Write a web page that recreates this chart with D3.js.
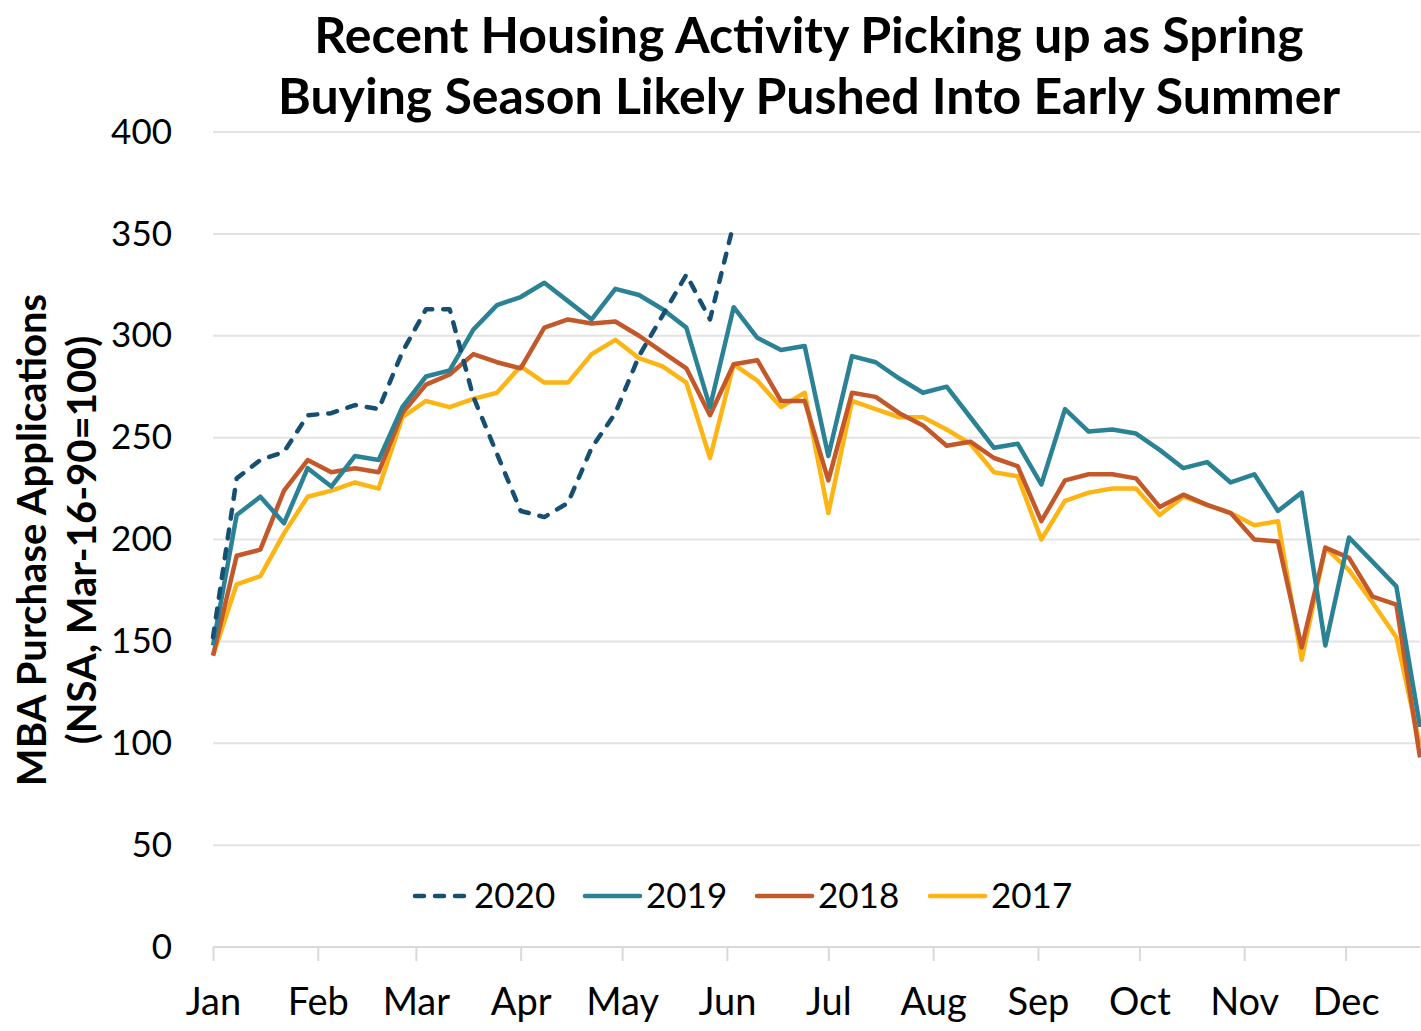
<!DOCTYPE html>
<html>
<head>
<meta charset="utf-8">
<script src="https://cdn.jsdelivr.net/npm/d3@7"></script>
<style>
  body { margin: 0; background: #fff; }
  text { font-family: "Source Sans Pro", Lato, "Noto Sans", sans-serif; }
</style>
</head>
<body>
<svg id="chart"></svg>
<script>
// weekly readings, 52 per year (week 1 = Jan 1)
const v2020 = [152, 230, 239, 243, 261, 262, 266, 264, 292, 313, 313, 270, 242, 214, 211, 218, 245, 262, 290, 310, 330, 308, 355];
const v2019 = [148, 212, 221, 208, 235, 226, 241, 239, 265, 280, 283, 303, 315, 319, 326, 317, 308, 323, 320, 313, 304, 265, 314, 299, 293, 295, 241, 290, 287, 279, 272, 275, 260, 245, 247, 227, 264, 253, 254, 252, 244, 235, 238, 228, 232, 214, 223, 148, 201, 189, 177, 108];
const v2018 = [143, 192, 195, 224, 239, 233, 235, 233, 262, 276, 281, 291, 287, 284, 304, 308, 306, 307, 300, 292, 284, 261, 286, 288, 268, 268, 229, 272, 270, 262, 256, 246, 248, 240, 236, 209, 229, 232, 232, 230, 216, 222, 217, 213, 200, 199, 147, 196, 191, 172, 168, 93];
const v2017 = [143, 178, 182, 203, 221, 224, 228, 225, 260, 268, 265, 269, 272, 285, 277, 277, 291, 298, 289, 285, 277, 240, 286, 278, 265, 272, 213, 268, 264, 260, 260, 254, 247, 233, 231, 200, 219, 223, 225, 225, 212, 221, 217, 213, 207, 209, 141, 196, 185, 169, 152, 99];
const seriesNames = ["2020", "2019", "2018", "2017"];
const seriesColors = ["#174f73", "#2a8294", "#c3582a", "#fdb515"];
const monthLabels = ["Jan", "Feb", "Mar", "Apr", "May", "Jun", "Jul", "Aug", "Sep", "Oct", "Nov", "Dec"];
const yTicks = [0, 50, 100, 150, 200, 250, 300, 350, 400];

const width = 1421;
const height = 1031;
const margin = { top: 132, right: 1, bottom: 84, left: 213 };

const start = new Date(2020, 0, 1);
const weekDate = (i) => d3.timeDay.offset(start, 7 * i);

const svg = d3.select("#chart").attr("width", width).attr("height", height);

const x = d3.scaleTime()
  .domain([start, weekDate(51)])
  .range([margin.left, width - margin.right]);

const y = d3.scaleLinear()
  .domain([0, 400])
  .range([height - margin.bottom, margin.top]);

// gridlines
svg.append("g")
  .selectAll("line")
  .data(yTicks.filter((d) => d > 0))
  .join("line")
  .attr("x1", margin.left)
  .attr("x2", width - margin.right)
  .attr("y1", (d) => y(d))
  .attr("y2", (d) => y(d))
  .attr("stroke", "#e3e3e3")
  .attr("stroke-width", 2);

// y axis labels
const yAxis = d3.axisLeft(y).tickValues(yTicks).tickSize(0).tickPadding(41);
svg.append("g")
  .attr("transform", `translate(${margin.left}, 0)`)
  .call(yAxis)
  .call((g) => g.select(".domain").remove())
  .selectAll("text")
  .style("font-size", "35px")
  .attr("fill", "#000");

// x axis
const months = monthLabels.map((m, i) => new Date(2020, i, 1));
const xAxis = d3.axisBottom(x)
  .tickValues(months)
  .tickFormat((d) => monthLabels[d.getMonth()])
  .tickSize(14)
  .tickPadding(27);
const gx = svg.append("g")
  .attr("transform", `translate(0, ${y(0)})`)
  .call(xAxis);
gx.select(".domain").attr("stroke", "#d9d9d9").attr("stroke-width", 2)
  .attr("d", `M${margin.left},0H${width - margin.right}`);
gx.selectAll(".tick line").attr("stroke", "#d9d9d9").attr("stroke-width", 2);
gx.selectAll("text").style("font-size", "38px").attr("fill", "#000");

// lines
const line = d3.line()
  .x((d, i) => x(weekDate(i)))
  .y((d) => y(d));

const allSeries = [v2020, v2019, v2018, v2017];
// draw older years first so 2020 sits on top
[3, 2, 1, 0].forEach((k) => {
  svg.append("path")
    .datum(allSeries[k])
    .attr("fill", "none")
    .attr("stroke", seriesColors[k])
    .attr("stroke-width", 4.5)
    .attr("stroke-linejoin", "round")
    .attr("stroke-linecap", k === 0 ? "round" : "butt")
    .attr("stroke-dasharray", k === 0 ? "9,11" : null)
    .attr("d", line);
});

// legend
const legendX = [413, 585, 757, 930];
const legend = svg.append("g").attr("transform", `translate(0, ${y(25)})`);
seriesNames.forEach((name, k) => {
  legend.append("line")
    .attr("x1", k === 0 ? legendX[k] + 2 : legendX[k])
    .attr("x2", legendX[k] + 55)
    .attr("y1", 0)
    .attr("y2", 0)
    .attr("stroke", seriesColors[k])
    .attr("stroke-width", 4.5)
    .attr("stroke-linecap", "round")
    .attr("stroke-dasharray", k === 0 ? "9,11" : null);
  legend.append("text")
    .attr("x", legendX[k] + 61)
    .attr("y", 12)
    .style("font-size", "35px")
    .text(name);
});

// title
const title = svg.append("text")
  .attr("text-anchor", "middle")
  .style("font-size", "50px")
  .style("font-weight", "bold");
title.append("tspan").attr("x", 809).attr("y", 53).text("Recent Housing Activity Picking up as Spring");
title.append("tspan").attr("x", 809).attr("y", 114).text("Buying Season Likely Pushed Into Early Summer");

// y axis title
const ytitle = svg.append("text")
  .attr("transform", "rotate(-90)")
  .attr("text-anchor", "middle")
  .style("font-size", "40px")
  .style("font-weight", "bold");
ytitle.append("tspan").attr("x", -540).attr("y", 46).text("MBA Purchase Applications");
ytitle.append("tspan").attr("x", -540).attr("y", 96).text("(NSA, Mar-16-90=100)");
</script>
</body>
</html>
